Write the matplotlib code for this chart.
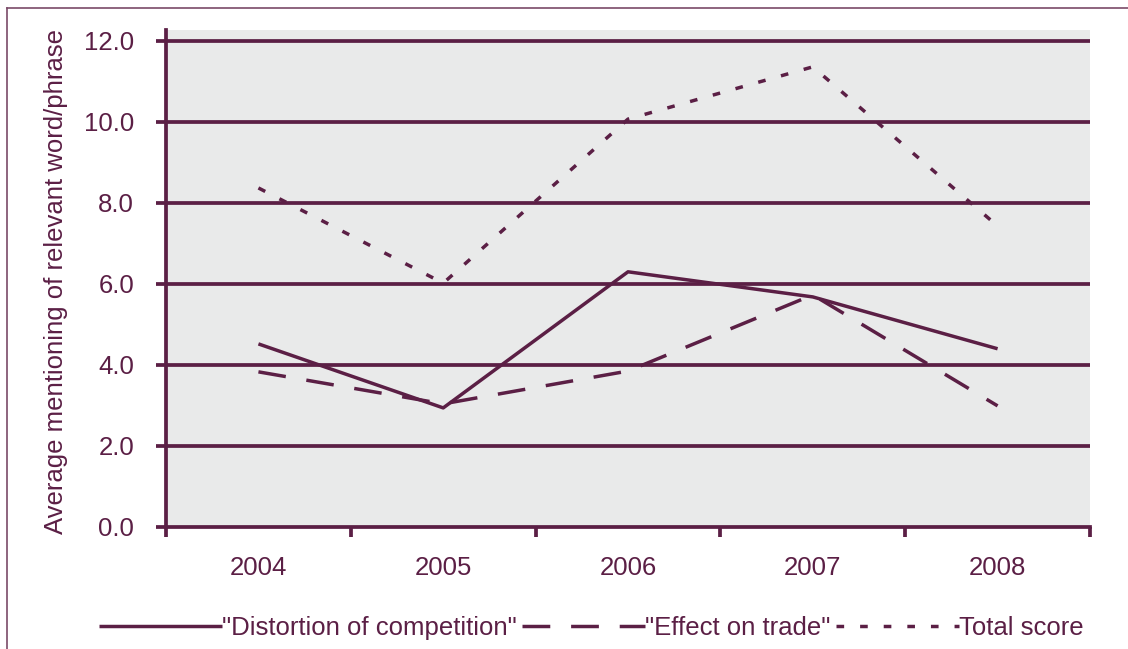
import matplotlib.pyplot as plt
import numpy as np
from matplotlib.lines import Line2D

plt.rcParams['font.family'] = ['Liberation Sans', 'DejaVu Sans']

years = ['2004', '2005', '2006', '2007', '2008']
distortion = [4.52, 2.94, 6.30, 5.68, 4.40]
effect_on_trade = [3.83, 3.04, 3.85, 5.73, 2.99]
total_score = [8.37, 6.02, 10.07, 11.36, 7.43]
y_ticks = [0, 2, 4, 6, 8, 10, 12]

PURPLE = '#5b1f45'
PANEL = '#e9eaea'
FS = 18.5

fig = plt.figure(figsize=(11.28, 6.49), dpi=100)
ax = fig.add_axes([0.1472, 0.188, 0.8191, 0.7658])
ax.set_facecolor(PANEL)

x = np.arange(len(years))
ax.plot(x, distortion, color=PURPLE, lw=2.5, solid_capstyle='butt',
        label='"Distortion of competition"')
ax.plot(x, effect_on_trade, color=PURPLE, lw=2.5, dashes=(8, 6),
        label='"Effect on trade"')
ax.plot(x, total_score, color=PURPLE, lw=2.5, dashes=(2.2, 4.6),
        label='Total score')

for v in y_ticks[1:]:
    ax.axhline(v, color=PURPLE, lw=2.7, zorder=1)

ax.set_xlim(-0.5, len(years) - 0.5)
ax.set_ylim(0, 12.27)
ax.set_yticks(y_ticks)
ax.set_yticklabels([f'{v:.1f}' for v in y_ticks])
ax.set_xticks(x)
ax.set_xticklabels(years)
ax.set_xticks(np.arange(-0.5, len(years)), minor=True)

for side in ['top', 'right']:
    ax.spines[side].set_visible(False)
for side in ['left', 'bottom']:
    ax.spines[side].set_color(PURPLE)
    ax.spines[side].set_linewidth(2.7)

ax.tick_params(axis='y', direction='out', length=7, width=2.7, color=PURPLE,
               labelcolor=PURPLE, labelsize=FS, pad=16)
ax.tick_params(axis='x', which='major', length=0, labelcolor=PURPLE,
               labelsize=FS, pad=21)
ax.tick_params(axis='x', which='minor', direction='out', length=7, width=2.7,
               color=PURPLE)

ax.set_ylabel('Average mentioning of relevant word/phrase', color=PURPLE,
              fontsize=FS)
ax.yaxis.set_label_coords(-0.106, 0.493)

leg = fig.legend(loc='center', bbox_to_anchor=(0.524, 0.032), ncol=3,
                 frameon=False, fontsize=FS, handlelength=4.8,
                 handletextpad=0.0, columnspacing=0.2, labelcolor=PURPLE)

# outer frame lines along the top and left edges
fig.add_artist(Line2D([7 / 1128, 1.0], [1 - 8 / 649] * 2, color='#7a4a68',
                      lw=1.2, transform=fig.transFigure))
fig.add_artist(Line2D([7 / 1128] * 2, [0.0, 1 - 8 / 649], color='#7a4a68',
                      lw=1.2, transform=fig.transFigure))

fig.savefig('out.png', dpi=100, facecolor='white')
